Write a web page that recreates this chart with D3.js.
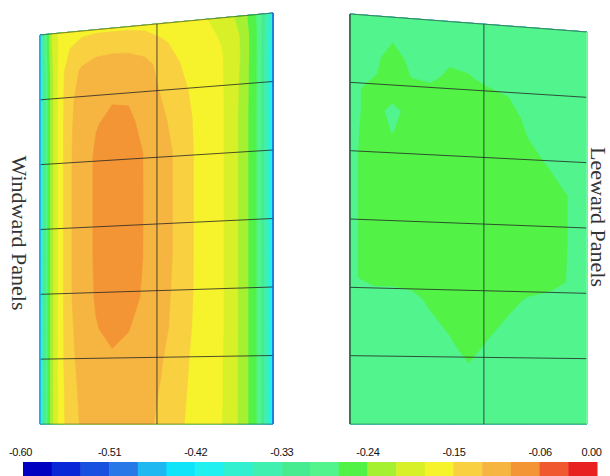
<!DOCTYPE html>
<html><head><meta charset="utf-8">
<script src="https://cdn.jsdelivr.net/npm/d3@7"></script>
<style>body{margin:0;background:#fff} svg{display:block}</style>
</head><body>
<svg id="c" width="610" height="476"></svg>
<script>
// ---- Data ----
const tickValues = [-0.60, -0.51, -0.42, -0.33, -0.24, -0.15, -0.06, 0.00];
const tickLabels = ["-0.60", "-0.51", "-0.42", "-0.33", "-0.24", "-0.15", "-0.06", "0.00"];
const levels = [-0.60, -0.57, -0.54, -0.51, -0.48, -0.45, -0.42, -0.39, -0.36, -0.33,
                -0.30, -0.27, -0.24, -0.21, -0.18, -0.15, -0.12, -0.09, -0.06, -0.03];
const bandColors = ["#0000c0", "#0828d8", "#1850e0", "#2878e8", "#20b8f0", "#10e4f8", "#20f0f0",
                    "#30f0d0", "#40f0b0", "#48ec90", "#52f48e", "#52f246", "#a6f032", "#d8f028",
                    "#f6f32c", "#f8d040", "#f6b440", "#f39534", "#f05830", "#e82020"];
const panelNames = ["Windward Panels", "Leeward Panels"];

// windward panel: column / row positions (fraction of panel) and pressure values
const windwardU = [0, 0.02, 0.05, 0.09, 0.13, 0.18, 0.24, 0.31, 0.38, 0.45, 0.52, 0.60, 0.68, 0.78, 0.87, 0.94, 1];
const windwardV = [0, 0.05, 0.10, 0.17, 0.24, 0.32, 0.45, 0.58, 0.68, 0.76, 0.84, 0.92, 1];
const windwardValues = [
  [-0.40, -0.30, -0.21, -0.165, -0.16, -0.157, -0.155, -0.155, -0.155, -0.157, -0.162, -0.167, -0.175, -0.188, -0.225, -0.28, -0.40],
  [-0.41, -0.30, -0.215, -0.165, -0.148, -0.135, -0.128, -0.126, -0.127, -0.132, -0.145, -0.158, -0.168, -0.182, -0.215, -0.28, -0.41],
  [-0.42, -0.31, -0.22, -0.16, -0.132, -0.116, -0.108, -0.105, -0.106, -0.112, -0.128, -0.15, -0.164, -0.178, -0.215, -0.28, -0.42],
  [-0.42, -0.31, -0.22, -0.16, -0.125, -0.11, -0.098, -0.094, -0.095, -0.103, -0.122, -0.142, -0.16, -0.177, -0.218, -0.28, -0.42],
  [-0.42, -0.31, -0.22, -0.16, -0.123, -0.108, -0.092, -0.082, -0.083, -0.10, -0.114, -0.134, -0.158, -0.176, -0.22, -0.28, -0.42],
  [-0.42, -0.31, -0.22, -0.16, -0.122, -0.108, -0.085, -0.075, -0.075, -0.092, -0.108, -0.128, -0.158, -0.176, -0.22, -0.28, -0.42],
  [-0.42, -0.31, -0.22, -0.16, -0.122, -0.108, -0.085, -0.073, -0.073, -0.092, -0.108, -0.128, -0.158, -0.176, -0.22, -0.28, -0.42],
  [-0.42, -0.31, -0.22, -0.16, -0.122, -0.108, -0.085, -0.075, -0.075, -0.092, -0.108, -0.128, -0.158, -0.176, -0.22, -0.28, -0.42],
  [-0.42, -0.31, -0.22, -0.16, -0.122, -0.108, -0.087, -0.077, -0.08, -0.094, -0.11, -0.13, -0.158, -0.176, -0.22, -0.28, -0.42],
  [-0.42, -0.31, -0.22, -0.16, -0.124, -0.11, -0.092, -0.082, -0.089, -0.10, -0.112, -0.132, -0.16, -0.176, -0.22, -0.28, -0.42],
  [-0.42, -0.31, -0.22, -0.16, -0.126, -0.112, -0.10, -0.095, -0.098, -0.105, -0.118, -0.138, -0.162, -0.178, -0.22, -0.28, -0.42],
  [-0.42, -0.31, -0.22, -0.162, -0.128, -0.115, -0.105, -0.10, -0.102, -0.11, -0.122, -0.142, -0.163, -0.178, -0.22, -0.28, -0.42],
  [-0.42, -0.31, -0.22, -0.163, -0.13, -0.117, -0.108, -0.104, -0.106, -0.114, -0.125, -0.145, -0.165, -0.18, -0.22, -0.28, -0.42]
];

// leeward panel
const leewardU = [0, 0.04, 0.10, 0.18, 0.26, 0.34, 0.42, 0.50, 0.58, 0.66, 0.75, 0.85, 0.93, 1];
const leewardV = [0, 0.05, 0.10, 0.14, 0.18, 0.23, 0.28, 0.34, 0.42, 0.55, 0.64, 0.69, 0.75, 0.81, 0.88, 1];
const leewardValues = [
  [-0.29, -0.29, -0.29, -0.29, -0.29, -0.29, -0.29, -0.29, -0.29, -0.29, -0.29, -0.29, -0.29, -0.29],
  [-0.29, -0.29, -0.285, -0.275, -0.29, -0.29, -0.29, -0.29, -0.29, -0.29, -0.29, -0.29, -0.29, -0.29],
  [-0.29, -0.285, -0.28, -0.255, -0.28, -0.285, -0.275, -0.28, -0.29, -0.29, -0.29, -0.29, -0.29, -0.29],
  [-0.288, -0.28, -0.275, -0.25, -0.272, -0.28, -0.26, -0.265, -0.28, -0.29, -0.29, -0.29, -0.29, -0.29],
  [-0.285, -0.272, -0.255, -0.25, -0.26, -0.255, -0.25, -0.25, -0.255, -0.268, -0.285, -0.29, -0.29, -0.29],
  [-0.285, -0.272, -0.255, -0.282, -0.255, -0.25, -0.25, -0.25, -0.25, -0.258, -0.276, -0.29, -0.29, -0.29],
  [-0.285, -0.27, -0.255, -0.272, -0.25, -0.25, -0.25, -0.25, -0.25, -0.252, -0.27, -0.285, -0.29, -0.29],
  [-0.285, -0.268, -0.252, -0.25, -0.25, -0.25, -0.25, -0.25, -0.25, -0.25, -0.255, -0.276, -0.288, -0.29],
  [-0.285, -0.268, -0.252, -0.25, -0.25, -0.25, -0.25, -0.25, -0.25, -0.25, -0.25, -0.255, -0.273, -0.29],
  [-0.285, -0.268, -0.252, -0.25, -0.25, -0.25, -0.25, -0.25, -0.25, -0.25, -0.25, -0.255, -0.273, -0.29],
  [-0.285, -0.268, -0.255, -0.255, -0.255, -0.25, -0.25, -0.25, -0.25, -0.25, -0.252, -0.258, -0.274, -0.29],
  [-0.29, -0.29, -0.29, -0.29, -0.28, -0.262, -0.25, -0.25, -0.25, -0.258, -0.275, -0.285, -0.29, -0.29],
  [-0.29, -0.29, -0.29, -0.29, -0.29, -0.278, -0.262, -0.25, -0.258, -0.275, -0.29, -0.29, -0.29, -0.29],
  [-0.29, -0.29, -0.29, -0.29, -0.29, -0.29, -0.278, -0.258, -0.276, -0.29, -0.29, -0.29, -0.29, -0.29],
  [-0.29, -0.29, -0.29, -0.29, -0.29, -0.29, -0.29, -0.28, -0.29, -0.29, -0.29, -0.29, -0.29, -0.29],
  [-0.29, -0.29, -0.29, -0.29, -0.29, -0.29, -0.29, -0.29, -0.29, -0.29, -0.29, -0.29, -0.29, -0.29]
];

// ---- Layout ----
const svg = d3.select("#c");
const panels = [
  {U: windwardU, V: windwardV, values: windwardValues,
   corners: [[40, 35], [273, 13], [273, 424], [40, 424]], midU: 0.502,
   leftEdge: "#1fa6e6", rightEdge: "#1f60d6", label: panelNames[0], labelPos: [19, 233]},
  {U: leewardU, V: leewardV, values: leewardValues,
   corners: [[350, 14], [587, 32], [587, 424], [350, 424]], midU: 0.565,
   leftEdge: "#2d5a3a", rightEdge: "#7ef8a8", label: panelNames[1], labelPos: [598, 217]}
];

function mapper(c) {
  const [tl, tr, br, bl] = c;
  return (u, v) => {
    const tx = tl[0] + (tr[0] - tl[0]) * u, ty = tl[1] + (tr[1] - tl[1]) * u;
    const bx = bl[0] + (br[0] - bl[0]) * u, by = bl[1] + (br[1] - bl[1]) * u;
    return [tx + (bx - tx) * v, ty + (by - ty) * v];
  };
}

panels.forEach((p, pi) => {
  const nx = p.U.length, ny = p.V.length;
  const sx = d3.scaleLinear().domain([0, ...p.U.map((_, i) => i + 0.5), nx]).range([0, ...p.U, 1]);
  const sy = d3.scaleLinear().domain([0, ...p.V.map((_, i) => i + 0.5), ny]).range([0, ...p.V, 1]);
  const m = mapper(p.corners);
  const contours = d3.contours().size([nx, ny]).thresholds(levels)(p.values.flat());
  const g = svg.append("g");
  const toPath = geom => geom.coordinates.map(poly => poly.map(ring =>
    "M" + ring.map(pt => m(sx(pt[0]), sy(pt[1])).map(v => v.toFixed(2)).join(",")).join("L") + "Z").join("")).join("");
  g.selectAll("path.band").data(contours).join("path")
    .attr("class", "band")
    .attr("d", toPath)
    .attr("fill", (d, i) => bandColors[i])
    .attr("stroke", (d, i) => bandColors[i])
    .attr("stroke-width", 0.4);

  // grid lines
  const line = d3.line();
  const gl = svg.append("g").attr("fill", "none").attr("stroke", "#262626").attr("stroke-opacity", 0.8).attr("stroke-width", 1);
  [1, 2, 3, 4, 5].forEach(k => gl.append("path").attr("d", line([m(0, k / 6), m(1, k / 6)])));
  gl.append("path").attr("d", line([m(p.midU, 0), m(p.midU, 1)]));
  gl.append("path").attr("d", line([m(0, 0), m(1, 0)])).attr("stroke-opacity", 0.55);
  gl.append("path").attr("d", line([m(0, 1), m(1, 1)])).attr("stroke-opacity", 0.35);
  svg.append("path").attr("d", line([m(0, 0), m(0, 1)])).attr("stroke", p.leftEdge).attr("stroke-width", 1.5).attr("fill", "none");
  svg.append("path").attr("d", line([m(1, 0), m(1, 1)])).attr("stroke", p.rightEdge).attr("stroke-width", 1.5).attr("fill", "none");

  svg.append("text")
    .attr("transform", `translate(${p.labelPos[0]},${p.labelPos[1]}) rotate(90)`)
    .attr("text-anchor", "middle").attr("dominant-baseline", "central")
    .attr("font-family", "'Liberation Serif','Times New Roman',serif")
    .attr("font-size", 22).attr("fill", "#333")
    .text(p.label);
});

// ---- Colour bar ----
const xBar = d3.scaleLinear().domain([-0.60, 0]).range([23, 597]);
svg.append("g").selectAll("rect").data(levels).join("rect")
  .attr("x", d => xBar(d))
  .attr("width", d => xBar(d + 0.03) - xBar(d) + 0.5)
  .attr("y", 462).attr("height", 14)
  .attr("fill", (d, i) => bandColors[i]);

const axis = d3.axisTop(xBar).tickValues(tickValues).tickFormat((d, i) => tickLabels[i]).tickSize(0);
const ax = svg.append("g").attr("transform", "translate(0,459)").call(axis);
ax.select(".domain").remove();
ax.selectAll("text")
  .attr("font-family", "'Liberation Sans',Arial,sans-serif")
  .attr("font-size", 11).attr("fill", "#111")
  .attr("letter-spacing", "-0.4");
ax.selectAll(".tick").filter(d => d === 0).select("text").attr("dx", -6);
ax.selectAll(".tick").filter(d => d === -0.60).select("text").attr("dx", -3);
</script>
</body></html>
